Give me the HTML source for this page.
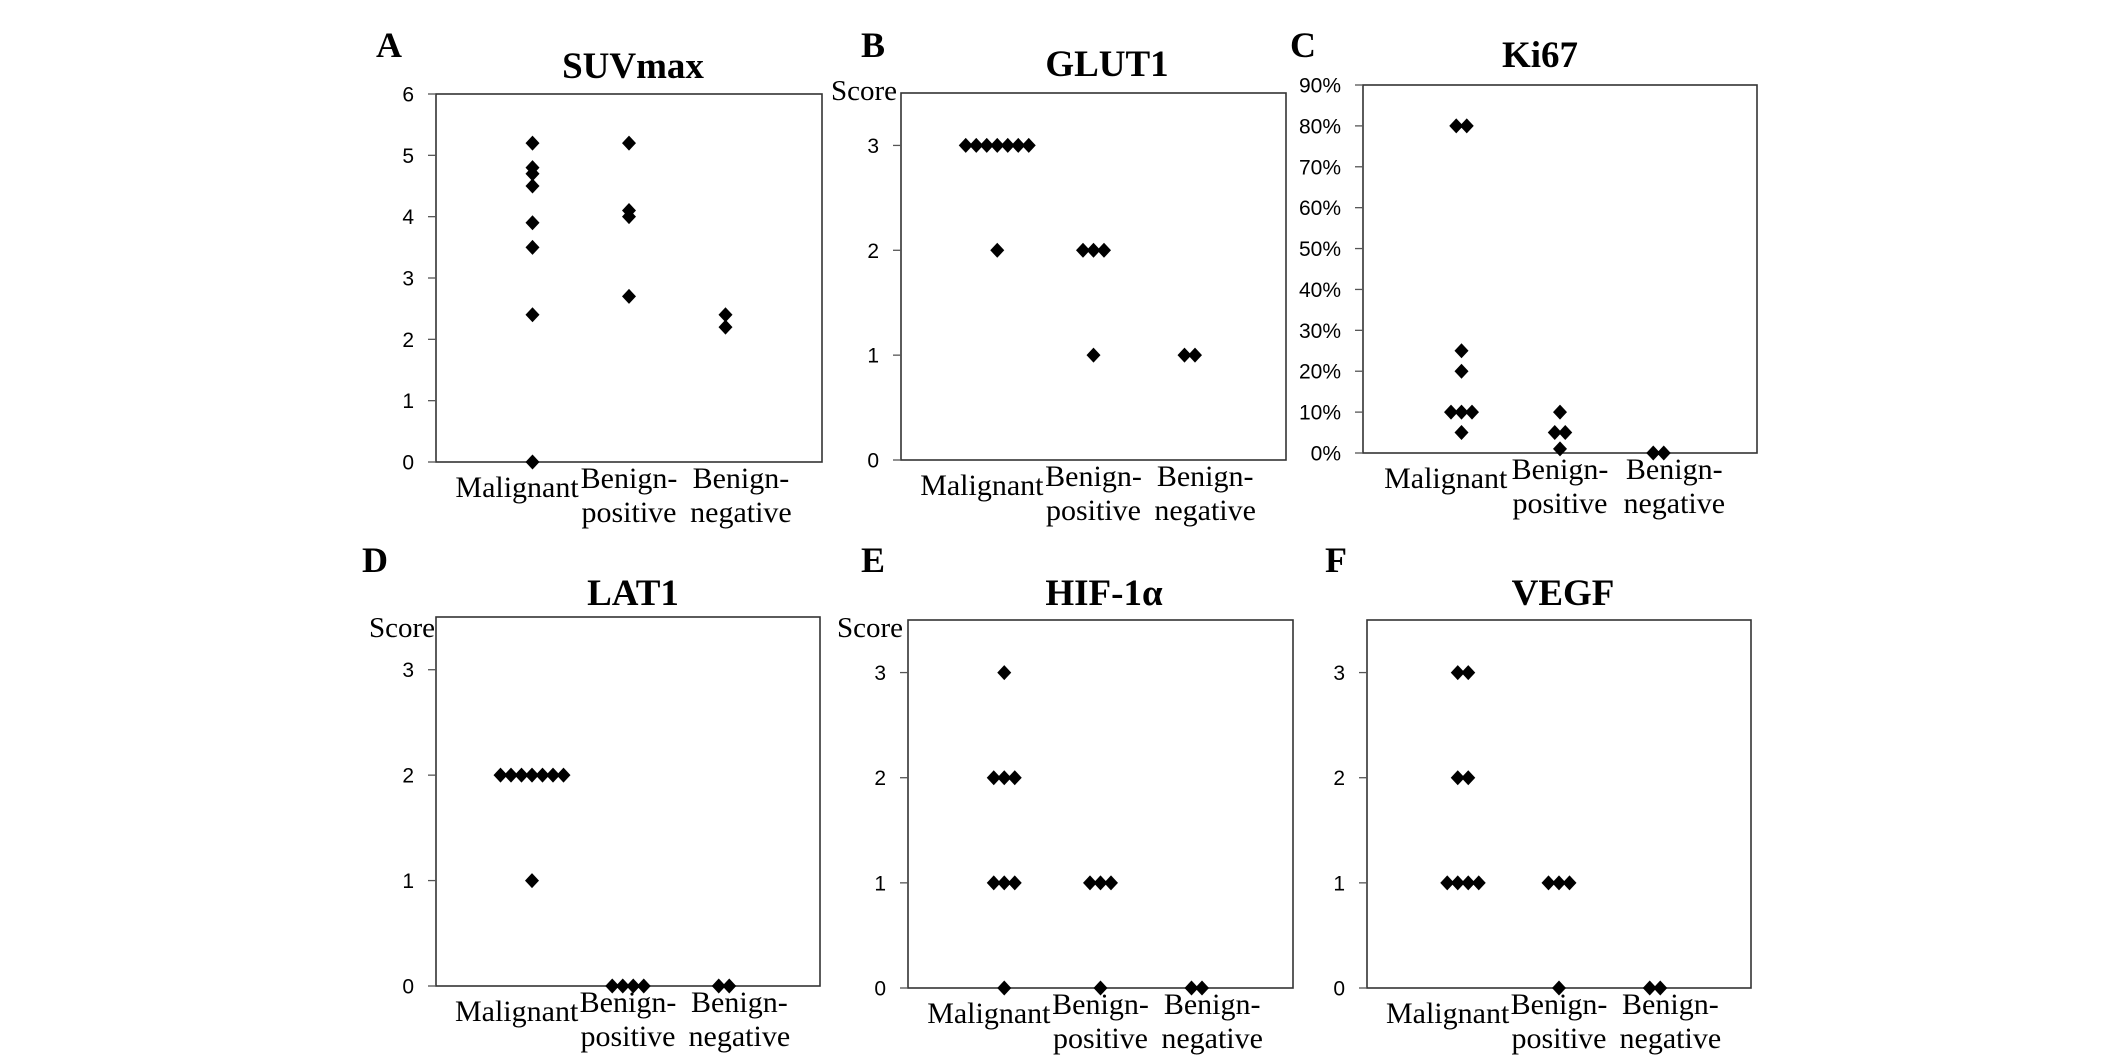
<!DOCTYPE html>
<html><head><meta charset="utf-8"><style>
html,body{margin:0;padding:0;background:#fff;}
svg{display:block;}
.tick{font-family:"Liberation Sans",sans-serif;font-size:21px;fill:#000;}
.cat{font-family:"Liberation Serif",serif;font-size:30px;fill:#000;}
.ttl{font-family:"Liberation Serif",serif;font-size:37px;font-weight:bold;fill:#000;}
.let{font-family:"Liberation Serif",serif;font-size:36px;font-weight:bold;fill:#000;}
.score{font-family:"Liberation Serif",serif;font-size:29px;fill:#000;}
</style></head><body>
<svg id="fig" width="2126" height="1063" viewBox="0 0 2126 1063" xmlns="http://www.w3.org/2000/svg"></svg>
<script>
const categories = ["Malignant", "Benign-positive", "Benign-negative"];
// Panel A SUVmax
const suvMalignant = [5.2, 4.8, 4.7, 4.5, 3.9, 3.5, 2.4, 0];
const suvBenignPos = [5.2, 4.1, 4.0, 2.7];
const suvBenignNeg = [2.4, 2.2];
const suvTicks = [0, 1, 2, 3, 4, 5, 6];
// Panel B GLUT1
const glutMalignant = [3, 3, 3, 3, 3, 3, 3, 2];
const glutBenignPos = [2, 2, 2, 1];
const glutBenignNeg = [1, 1];
// Panel C Ki67 (%)
const ki67Malignant = [80, 80, 25, 20, 10, 10, 10, 5];
const ki67BenignPos = [10, 5, 5, 1];
const ki67BenignNeg = [0, 0];
const ki67Ticks = [0, 10, 20, 30, 40, 50, 60, 70, 80, 90];
// Panel D LAT1
const latMalignant = [2, 2, 2, 2, 2, 2, 2, 1];
const latBenignPos = [0, 0, 0, 0];
const latBenignNeg = [0, 0];
// Panel E HIF-1a
const hifMalignant = [3, 2, 2, 2, 1, 1, 1, 0];
const hifBenignPos = [1, 1, 1, 0];
const hifBenignNeg = [0, 0];
// Panel F VEGF
const vegfMalignant = [3, 3, 2, 2, 1, 1, 1, 1];
const vegfBenignPos = [1, 1, 1, 0];
const vegfBenignNeg = [0, 0];
const scoreTicks = [0, 1, 2, 3];

const NS = "http://www.w3.org/2000/svg";
const svg = document.getElementById("fig");
function mk(tag, attrs, parent) {
  const e = document.createElementNS(NS, tag);
  for (const k in attrs) e.setAttribute(k, attrs[k]);
  (parent || svg).appendChild(e);
  return e;
}

const panels = [
  {key:"suvmax", letter:"A", lx:389, ly:57, title:"SUVmax", tx:633, ty:78, x0:436, x1:822, y0:94, y1:462, ymax:6, ticks:suvTicks, fmt:v=>String(v), series:[suvMalignant,suvBenignPos,suvBenignNeg], score:null},
  {key:"glut1", letter:"B", lx:873, ly:57, title:"GLUT1", tx:1107, ty:76, x0:901, x1:1286, y0:93, y1:460, ymax:3.5, ticks:scoreTicks, fmt:v=>String(v), series:[glutMalignant,glutBenignPos,glutBenignNeg], score:{x:897,y:100}},
  {key:"ki67", letter:"C", lx:1303, ly:57, title:"Ki67", tx:1540, ty:67, x0:1363, x1:1757, y0:85, y1:453, ymax:90, ticks:ki67Ticks, fmt:v=>v+"%", series:[ki67Malignant,ki67BenignPos,ki67BenignNeg], score:null},
  {key:"lat1", letter:"D", lx:375, ly:572, title:"LAT1", tx:633, ty:605, x0:436, x1:820, y0:617, y1:986, ymax:3.5, ticks:scoreTicks, fmt:v=>String(v), series:[latMalignant,latBenignPos,latBenignNeg], score:{x:435,y:637}},
  {key:"hif1a", letter:"E", lx:873, ly:572, title:"HIF-1α", tx:1104, ty:605, x0:908, x1:1293, y0:620, y1:988, ymax:3.5, ticks:scoreTicks, fmt:v=>String(v), series:[hifMalignant,hifBenignPos,hifBenignNeg], score:{x:903,y:637}},
  {key:"vegf", letter:"F", lx:1336, ly:572, title:"VEGF", tx:1563, ty:605, x0:1367, x1:1751, y0:620, y1:988, ymax:3.5, ticks:scoreTicks, fmt:v=>String(v), series:[vegfMalignant,vegfBenignPos,vegfBenignNeg], score:null}
];

const SP = 10.5, HW = 7, HH = 7.5;
panels.forEach(p => {
  const g = mk("g", {});
  
  
  const w = p.x1 - p.x0;
  const yS = v => p.y1 - (v / p.ymax) * (p.y1 - p.y0);
  const xS = i => p.x0 + w * (i + 1) / 4;

  const L = mk("text", {x:p.lx, y:p.ly, "text-anchor":"middle", class:"let"}, g);
  L.textContent = p.letter;
  
  
  const T = mk("text", {x:p.tx, y:p.ty, "text-anchor":"middle", class:"ttl"}, g);
  T.textContent = p.title;
  
  
  if (p.score) {
    const s = mk("text", {x:p.score.x, y:p.score.y, "text-anchor":"end", class:"score"}, g);
    s.textContent = "Score";
    
    
  }
  const box = mk("rect", {x:p.x0, y:p.y0, width:w, height:p.y1-p.y0, fill:"none", stroke:"#333", "stroke-width":1.6}, g);
  
  

  p.ticks.forEach(v => {
    const y = yS(v);
    const tk = mk("line", {x1:p.x0-8, x2:p.x0, y1:y, y2:y, stroke:"#555", "stroke-width":1.3}, g);
    
    
    const lb = mk("text", {x:p.x0-22, y:y+7.5, "text-anchor":"end", class:"tick"}, g);
    lb.textContent = p.fmt(v);
    
    
  });

  const m = mk("text", {x:p.x0 + w*0.21, y:p.y1+35, "text-anchor":"middle", class:"cat"}, g);
  m.textContent = "Malignant";
  
  
  [["positive",0.5],["negative",0.79]].forEach(([w2,f]) => {
    const t = mk("text", {x:p.x0 + w*f, "text-anchor":"middle", class:"cat"}, g);
    
    
    const a = mk("tspan", {x:p.x0 + w*f, y:p.y1+26}, t); a.textContent = "Benign-";
    const b = mk("tspan", {x:p.x0 + w*f, y:p.y1+60}, t); b.textContent = w2;
  });

  p.series.forEach((vals, ci) => {
    const counts = {}, seen = {};
    vals.forEach(v => counts[v] = (counts[v]||0) + 1);
    vals.forEach(v => {
      const k = seen[v] || 0; seen[v] = k + 1;
      const cx = xS(ci) + (k - (counts[v]-1)/2) * SP;
      const cy = yS(v);
      const d = mk("path", {d:`M${cx},${cy-HH}L${cx+HW},${cy}L${cx},${cy+HH}L${cx-HW},${cy}Z`, fill:"#000"}, g);
      
      
    });
  });
});
</script>
</body></html>
